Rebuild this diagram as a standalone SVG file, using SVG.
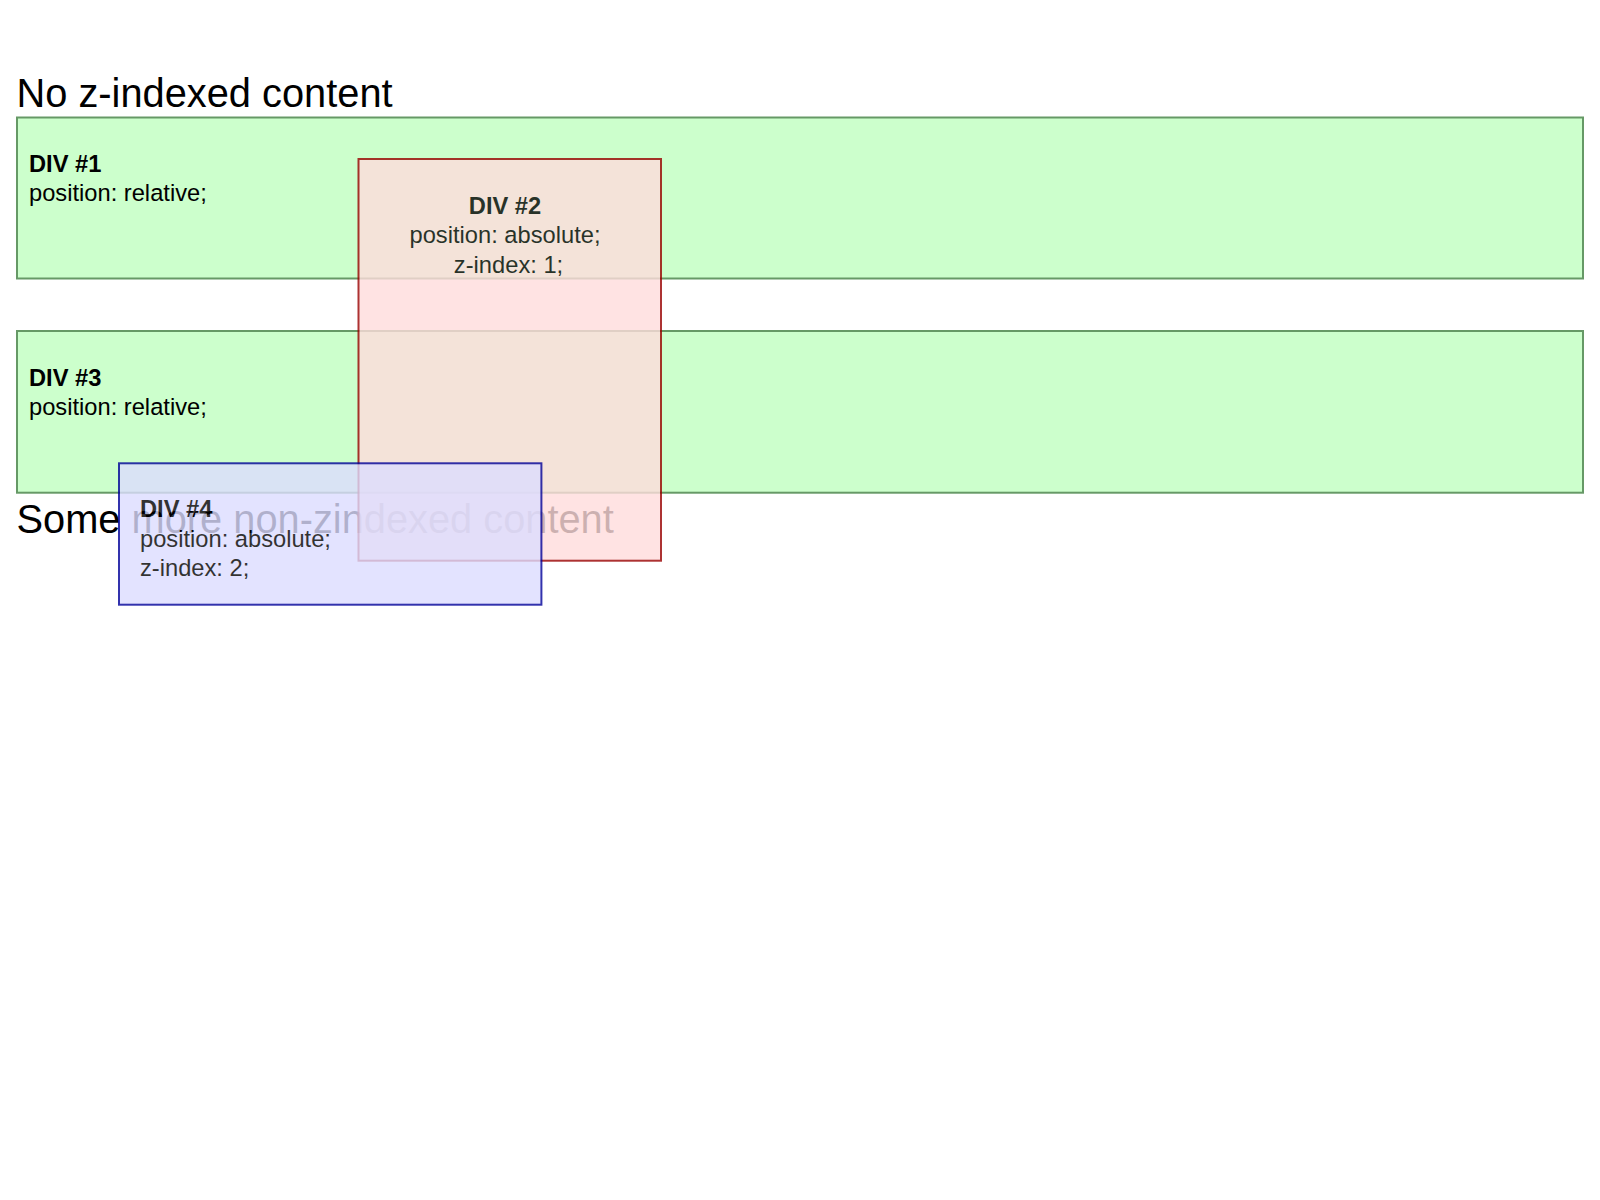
<svg xmlns="http://www.w3.org/2000/svg" width="1600" height="1200" viewBox="0 0 1600 1200">
  <style>
    text { font-family: "Liberation Sans", Arial, sans-serif; fill: #000; }
    .title { font-size: 39.8px; }
    .body { font-size: 23.7px; }
    .bold { font-weight: bold; }
    .green { fill: #ccffcc; stroke: #669966; stroke-width: 2; }
    .red { fill: #ffdddd; stroke: #990000; stroke-width: 2; }
    .blue { fill: #ddddff; stroke: #000099; stroke-width: 2; }
    .mid { text-anchor: middle; }
  </style>
  <rect width="1600" height="1200" fill="#ffffff"/>
  <g id="heading">
    <text class="title" x="16.5" y="106.5">No z-indexed content</text>
  </g>
  <g id="div1">
    <rect class="green" x="17" y="117.5" width="1566" height="161"/>
    <text class="body bold" x="29" y="172">DIV #1</text>
    <text class="body" x="29" y="201">position: relative;</text>
  </g>
  <g id="div3">
    <rect class="green" x="17" y="331" width="1566" height="161.7"/>
    <text class="body bold" x="29" y="385.5">DIV #3</text>
    <text class="body" x="29" y="414.5">position: relative;</text>
  </g>
  <g id="footer-text">
    <text class="title" x="16.5" y="532.7">Some more non-zindexed content</text>
  </g>
  <g id="connectors"/>
  <g id="div2" opacity="0.8">
    <rect class="red" x="358.5" y="159" width="302.5" height="401.7"/>
    <text class="body bold mid" x="505" y="213.5">DIV #2</text>
    <text class="body mid" x="505" y="243">position: absolute;</text>
    <text class="body mid" x="508.5" y="272.5">z-index: 1;</text>
  </g>
  <g id="div4" opacity="0.8">
    <rect class="blue" x="119" y="463.3" width="422.4" height="141.4"/>
    <text class="body bold" x="140" y="517">DIV #4</text>
    <text class="body" x="140" y="546.5">position: absolute;</text>
    <text class="body" x="140" y="576">z-index: 2;</text>
  </g>
</svg>
